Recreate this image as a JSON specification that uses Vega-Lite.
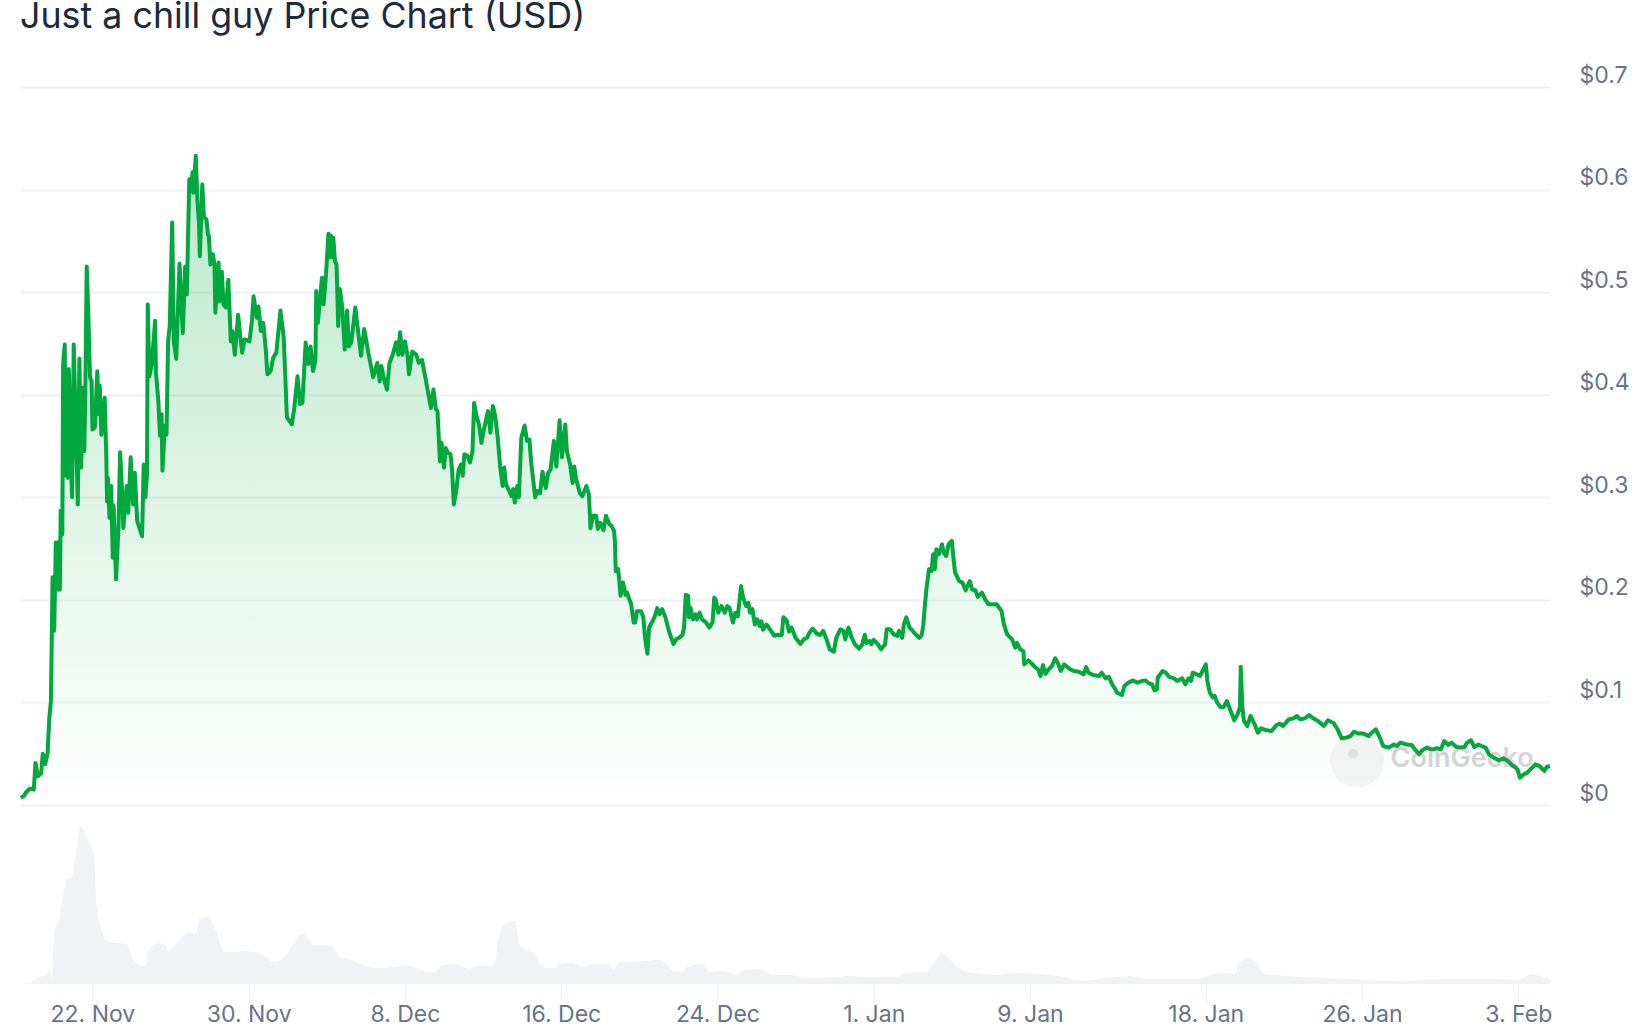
{"$schema":"https://vega.github.io/schema/vega-lite/v6.json","width":1530,"height":897,"autosize":"none","padding":{"left":20,"top":87,"right":94,"bottom":44},"background":"white","title":{"text":"Just a chill guy Price Chart (USD)","anchor":"start","frame":"group","font":"Inter","fontSize":35.8,"fontWeight":400,"color":"#1e293b","offset":28},"config":{"view":{"stroke":null}},"datasets":{"price":[
{"t":"2024-11-18T08:00Z","p":0.007},{"t":"2024-11-18T12:00Z","p":0.009},{"t":"2024-11-18T14:00Z","p":0.012},{"t":"2024-11-18T19:00Z","p":0.016},
{"t":"2024-11-19T00:00Z","p":0.015},{"t":"2024-11-19T02:00Z","p":0.041},{"t":"2024-11-19T05:00Z","p":0.028},{"t":"2024-11-19T09:00Z","p":0.031},{"t":"2024-11-19T11:00Z","p":0.05},{"t":"2024-11-19T14:00Z","p":0.04},{"t":"2024-11-19T17:00Z","p":0.051},{"t":"2024-11-19T19:00Z","p":0.085},{"t":"2024-11-19T21:00Z","p":0.101},{"t":"2024-11-19T22:00Z","p":0.16},{"t":"2024-11-19T23:00Z","p":0.222},
{"t":"2024-11-20T01:00Z","p":0.17},{"t":"2024-11-20T03:00Z","p":0.256},{"t":"2024-11-20T05:00Z","p":0.21},{"t":"2024-11-20T07:00Z","p":0.257},{"t":"2024-11-20T08:00Z","p":0.21},{"t":"2024-11-20T09:00Z","p":0.287},{"t":"2024-11-20T11:00Z","p":0.264},{"t":"2024-11-20T12:00Z","p":0.43},{"t":"2024-11-20T14:00Z","p":0.449},{"t":"2024-11-20T15:00Z","p":0.322},{"t":"2024-11-20T18:00Z","p":0.319},{"t":"2024-11-20T19:00Z","p":0.425},{"t":"2024-11-20T21:00Z","p":0.35},{"t":"2024-11-20T23:00Z","p":0.3},
{"t":"2024-11-21T01:00Z","p":0.449},{"t":"2024-11-21T03:00Z","p":0.388},{"t":"2024-11-21T06:00Z","p":0.293},{"t":"2024-11-21T08:00Z","p":0.435},{"t":"2024-11-21T10:00Z","p":0.329},{"t":"2024-11-21T13:00Z","p":0.407},{"t":"2024-11-21T14:00Z","p":0.345},{"t":"2024-11-21T15:00Z","p":0.388},{"t":"2024-11-21T17:00Z","p":0.525},{"t":"2024-11-21T19:00Z","p":0.478},{"t":"2024-11-21T21:00Z","p":0.417},{"t":"2024-11-21T23:00Z","p":0.413},
{"t":"2024-11-22T00:00Z","p":0.366},{"t":"2024-11-22T03:00Z","p":0.368},{"t":"2024-11-22T06:00Z","p":0.423},{"t":"2024-11-22T08:00Z","p":0.381},{"t":"2024-11-22T09:00Z","p":0.409},{"t":"2024-11-22T11:00Z","p":0.361},{"t":"2024-11-22T15:00Z","p":0.397},{"t":"2024-11-22T17:00Z","p":0.342},{"t":"2024-11-22T18:00Z","p":0.296},{"t":"2024-11-22T19:00Z","p":0.319},{"t":"2024-11-22T21:00Z","p":0.28},{"t":"2024-11-22T23:00Z","p":0.311},
{"t":"2024-11-23T01:00Z","p":0.241},{"t":"2024-11-23T02:00Z","p":0.292},{"t":"2024-11-23T05:00Z","p":0.22},{"t":"2024-11-23T08:00Z","p":0.27},{"t":"2024-11-23T10:00Z","p":0.344},{"t":"2024-11-23T12:00Z","p":0.313},{"t":"2024-11-23T14:00Z","p":0.27},{"t":"2024-11-23T18:00Z","p":0.311},{"t":"2024-11-23T20:00Z","p":0.285},{"t":"2024-11-23T23:00Z","p":0.339},
{"t":"2024-11-24T02:00Z","p":0.293},{"t":"2024-11-24T04:00Z","p":0.324},{"t":"2024-11-24T07:00Z","p":0.277},{"t":"2024-11-24T13:00Z","p":0.262},{"t":"2024-11-24T15:00Z","p":0.332},{"t":"2024-11-24T17:00Z","p":0.3},{"t":"2024-11-24T19:00Z","p":0.322},{"t":"2024-11-24T20:00Z","p":0.488},{"t":"2024-11-24T22:00Z","p":0.418},
{"t":"2024-11-25T01:00Z","p":0.43},{"t":"2024-11-25T05:00Z","p":0.472},{"t":"2024-11-25T06:00Z","p":0.422},{"t":"2024-11-25T09:00Z","p":0.394},{"t":"2024-11-25T11:00Z","p":0.36},{"t":"2024-11-25T13:00Z","p":0.381},{"t":"2024-11-25T14:00Z","p":0.326},{"t":"2024-11-25T17:00Z","p":0.37},{"t":"2024-11-25T19:00Z","p":0.361},{"t":"2024-11-25T21:00Z","p":0.452},{"t":"2024-11-25T23:00Z","p":0.467},
{"t":"2024-11-26T02:00Z","p":0.568},{"t":"2024-11-26T04:00Z","p":0.452},{"t":"2024-11-26T07:00Z","p":0.435},{"t":"2024-11-26T11:00Z","p":0.528},{"t":"2024-11-26T15:00Z","p":0.46},{"t":"2024-11-26T18:00Z","p":0.525},{"t":"2024-11-26T20:00Z","p":0.498},{"t":"2024-11-26T23:00Z","p":0.61},
{"t":"2024-11-27T01:00Z","p":0.599},{"t":"2024-11-27T03:00Z","p":0.617},{"t":"2024-11-27T04:00Z","p":0.597},{"t":"2024-11-27T07:00Z","p":0.633},{"t":"2024-11-27T09:00Z","p":0.589},{"t":"2024-11-27T11:00Z","p":0.566},{"t":"2024-11-27T12:00Z","p":0.535},{"t":"2024-11-27T15:00Z","p":0.605},{"t":"2024-11-27T17:00Z","p":0.573},{"t":"2024-11-27T20:00Z","p":0.571},{"t":"2024-11-27T22:00Z","p":0.556},{"t":"2024-11-27T23:00Z","p":0.555},
{"t":"2024-11-28T01:00Z","p":0.527},{"t":"2024-11-28T04:00Z","p":0.537},{"t":"2024-11-28T06:00Z","p":0.527},{"t":"2024-11-28T07:00Z","p":0.48},{"t":"2024-11-28T11:00Z","p":0.529},{"t":"2024-11-28T12:00Z","p":0.491},{"t":"2024-11-28T15:00Z","p":0.52},{"t":"2024-11-28T17:00Z","p":0.488},{"t":"2024-11-28T20:00Z","p":0.485},{"t":"2024-11-28T23:00Z","p":0.512},
{"t":"2024-11-29T02:00Z","p":0.452},{"t":"2024-11-29T04:00Z","p":0.462},{"t":"2024-11-29T07:00Z","p":0.439},{"t":"2024-11-29T11:00Z","p":0.478},{"t":"2024-11-29T13:00Z","p":0.462},{"t":"2024-11-29T16:00Z","p":0.441},{"t":"2024-11-29T19:00Z","p":0.454},
{"t":"2024-11-30T01:00Z","p":0.452},{"t":"2024-11-30T04:00Z","p":0.472},{"t":"2024-11-30T06:00Z","p":0.496},{"t":"2024-11-30T10:00Z","p":0.475},{"t":"2024-11-30T12:00Z","p":0.486},{"t":"2024-11-30T15:00Z","p":0.462},{"t":"2024-11-30T18:00Z","p":0.47},{"t":"2024-11-30T21:00Z","p":0.444},{"t":"2024-11-30T23:00Z","p":0.42},
{"t":"2024-12-01T03:00Z","p":0.423},{"t":"2024-12-01T06:00Z","p":0.436},{"t":"2024-12-01T10:00Z","p":0.441},{"t":"2024-12-01T15:00Z","p":0.482},{"t":"2024-12-01T19:00Z","p":0.456},{"t":"2024-12-01T23:00Z","p":0.378},
{"t":"2024-12-02T05:00Z","p":0.371},{"t":"2024-12-02T08:00Z","p":0.387},{"t":"2024-12-02T12:00Z","p":0.418},{"t":"2024-12-02T15:00Z","p":0.391},{"t":"2024-12-02T18:00Z","p":0.392},{"t":"2024-12-02T22:00Z","p":0.451},
{"t":"2024-12-03T01:00Z","p":0.43},{"t":"2024-12-03T04:00Z","p":0.447},{"t":"2024-12-03T07:00Z","p":0.423},{"t":"2024-12-03T10:00Z","p":0.433},{"t":"2024-12-03T11:00Z","p":0.501},{"t":"2024-12-03T13:00Z","p":0.47},{"t":"2024-12-03T18:00Z","p":0.514},{"t":"2024-12-03T20:00Z","p":0.488},{"t":"2024-12-03T23:00Z","p":0.517},
{"t":"2024-12-04T02:00Z","p":0.557},{"t":"2024-12-04T04:00Z","p":0.534},{"t":"2024-12-04T05:00Z","p":0.555},{"t":"2024-12-04T07:00Z","p":0.534},{"t":"2024-12-04T08:00Z","p":0.553},{"t":"2024-12-04T10:00Z","p":0.53},{"t":"2024-12-04T12:00Z","p":0.527},{"t":"2024-12-04T14:00Z","p":0.467},{"t":"2024-12-04T16:00Z","p":0.503},{"t":"2024-12-04T19:00Z","p":0.485},{"t":"2024-12-04T22:00Z","p":0.444},
{"t":"2024-12-05T01:00Z","p":0.482},{"t":"2024-12-05T03:00Z","p":0.447},{"t":"2024-12-05T06:00Z","p":0.451},{"t":"2024-12-05T11:00Z","p":0.485},{"t":"2024-12-05T14:00Z","p":0.465},{"t":"2024-12-05T18:00Z","p":0.438},{"t":"2024-12-05T22:00Z","p":0.464},
{"t":"2024-12-06T03:00Z","p":0.441},{"t":"2024-12-06T09:00Z","p":0.417},{"t":"2024-12-06T14:00Z","p":0.431},{"t":"2024-12-06T17:00Z","p":0.413},{"t":"2024-12-06T19:00Z","p":0.428},{"t":"2024-12-06T23:00Z","p":0.413},
{"t":"2024-12-07T02:00Z","p":0.405},{"t":"2024-12-07T05:00Z","p":0.431},{"t":"2024-12-07T09:00Z","p":0.439},{"t":"2024-12-07T13:00Z","p":0.451},{"t":"2024-12-07T16:00Z","p":0.439},{"t":"2024-12-07T18:00Z","p":0.461},{"t":"2024-12-07T21:00Z","p":0.439},
{"t":"2024-12-08T00:00Z","p":0.452},{"t":"2024-12-08T03:00Z","p":0.439},{"t":"2024-12-08T05:00Z","p":0.42},{"t":"2024-12-08T09:00Z","p":0.442},{"t":"2024-12-08T14:00Z","p":0.439},{"t":"2024-12-08T17:00Z","p":0.431},{"t":"2024-12-08T21:00Z","p":0.434},
{"t":"2024-12-09T02:00Z","p":0.413},{"t":"2024-12-09T04:00Z","p":0.404},{"t":"2024-12-09T08:00Z","p":0.387},{"t":"2024-12-09T11:00Z","p":0.405},{"t":"2024-12-09T14:00Z","p":0.386},{"t":"2024-12-09T16:00Z","p":0.384},{"t":"2024-12-09T19:00Z","p":0.335},{"t":"2024-12-09T21:00Z","p":0.353},
{"t":"2024-12-10T00:00Z","p":0.329},{"t":"2024-12-10T02:00Z","p":0.348},{"t":"2024-12-10T05:00Z","p":0.343},{"t":"2024-12-10T08:00Z","p":0.342},{"t":"2024-12-10T10:00Z","p":0.326},{"t":"2024-12-10T12:00Z","p":0.293},{"t":"2024-12-10T15:00Z","p":0.306},{"t":"2024-12-10T18:00Z","p":0.327},{"t":"2024-12-10T21:00Z","p":0.332},{"t":"2024-12-10T23:00Z","p":0.321},
{"t":"2024-12-11T01:00Z","p":0.342},{"t":"2024-12-11T05:00Z","p":0.34},{"t":"2024-12-11T08:00Z","p":0.334},{"t":"2024-12-11T11:00Z","p":0.345},{"t":"2024-12-11T13:00Z","p":0.392},{"t":"2024-12-11T16:00Z","p":0.379},{"t":"2024-12-11T19:00Z","p":0.371},{"t":"2024-12-11T22:00Z","p":0.353},
{"t":"2024-12-12T01:00Z","p":0.366},{"t":"2024-12-12T06:00Z","p":0.384},{"t":"2024-12-12T09:00Z","p":0.363},{"t":"2024-12-12T12:00Z","p":0.389},{"t":"2024-12-12T15:00Z","p":0.379},{"t":"2024-12-12T18:00Z","p":0.358},{"t":"2024-12-12T21:00Z","p":0.33},
{"t":"2024-12-13T00:00Z","p":0.311},{"t":"2024-12-13T02:00Z","p":0.329},{"t":"2024-12-13T04:00Z","p":0.313},{"t":"2024-12-13T07:00Z","p":0.308},{"t":"2024-12-13T11:00Z","p":0.301},{"t":"2024-12-13T13:00Z","p":0.308},{"t":"2024-12-13T15:00Z","p":0.295},{"t":"2024-12-13T18:00Z","p":0.311},{"t":"2024-12-13T20:00Z","p":0.3},{"t":"2024-12-13T23:00Z","p":0.358},
{"t":"2024-12-14T03:00Z","p":0.37},{"t":"2024-12-14T06:00Z","p":0.355},{"t":"2024-12-14T09:00Z","p":0.356},{"t":"2024-12-14T11:00Z","p":0.335},{"t":"2024-12-14T16:00Z","p":0.3},{"t":"2024-12-14T19:00Z","p":0.306},{"t":"2024-12-14T22:00Z","p":0.304},
{"t":"2024-12-15T01:00Z","p":0.325},{"t":"2024-12-15T05:00Z","p":0.309},{"t":"2024-12-15T08:00Z","p":0.324},{"t":"2024-12-15T11:00Z","p":0.327},{"t":"2024-12-15T15:00Z","p":0.355},{"t":"2024-12-15T18:00Z","p":0.33},{"t":"2024-12-15T22:00Z","p":0.375},
{"t":"2024-12-16T01:00Z","p":0.339},{"t":"2024-12-16T05:00Z","p":0.371},{"t":"2024-12-16T07:00Z","p":0.345},{"t":"2024-12-16T11:00Z","p":0.332},{"t":"2024-12-16T14:00Z","p":0.314},{"t":"2024-12-16T16:00Z","p":0.33},{"t":"2024-12-16T18:00Z","p":0.319},{"t":"2024-12-16T23:00Z","p":0.304},
{"t":"2024-12-17T02:00Z","p":0.301},{"t":"2024-12-17T07:00Z","p":0.311},{"t":"2024-12-17T10:00Z","p":0.303},{"t":"2024-12-17T12:00Z","p":0.27},{"t":"2024-12-17T15:00Z","p":0.282},{"t":"2024-12-17T19:00Z","p":0.282},{"t":"2024-12-17T21:00Z","p":0.269},
{"t":"2024-12-18T00:00Z","p":0.275},{"t":"2024-12-18T04:00Z","p":0.268},{"t":"2024-12-18T07:00Z","p":0.282},{"t":"2024-12-18T11:00Z","p":0.274},{"t":"2024-12-18T14:00Z","p":0.272},{"t":"2024-12-18T17:00Z","p":0.267},{"t":"2024-12-18T18:00Z","p":0.257},{"t":"2024-12-18T19:00Z","p":0.228},{"t":"2024-12-18T22:00Z","p":0.23},
{"t":"2024-12-19T01:00Z","p":0.204},{"t":"2024-12-19T04:00Z","p":0.217},{"t":"2024-12-19T07:00Z","p":0.205},{"t":"2024-12-19T09:00Z","p":0.207},{"t":"2024-12-19T11:00Z","p":0.202},{"t":"2024-12-19T14:00Z","p":0.196},{"t":"2024-12-19T17:00Z","p":0.178},{"t":"2024-12-19T19:00Z","p":0.178},{"t":"2024-12-19T21:00Z","p":0.189},
{"t":"2024-12-20T02:00Z","p":0.189},{"t":"2024-12-20T05:00Z","p":0.183},{"t":"2024-12-20T07:00Z","p":0.163},{"t":"2024-12-20T10:00Z","p":0.1475},{"t":"2024-12-20T12:00Z","p":0.173},{"t":"2024-12-20T16:00Z","p":0.179},{"t":"2024-12-20T19:00Z","p":0.184},{"t":"2024-12-20T22:00Z","p":0.192},
{"t":"2024-12-21T01:00Z","p":0.186},{"t":"2024-12-21T04:00Z","p":0.191},{"t":"2024-12-21T08:00Z","p":0.183},{"t":"2024-12-21T13:00Z","p":0.168},{"t":"2024-12-21T18:00Z","p":0.157},{"t":"2024-12-21T21:00Z","p":0.1615},
{"t":"2024-12-22T01:00Z","p":0.163},{"t":"2024-12-22T05:00Z","p":0.166},{"t":"2024-12-22T07:00Z","p":0.173},{"t":"2024-12-22T09:00Z","p":0.205},{"t":"2024-12-22T12:00Z","p":0.204},{"t":"2024-12-22T13:00Z","p":0.183},{"t":"2024-12-22T15:00Z","p":0.192},{"t":"2024-12-22T18:00Z","p":0.181},{"t":"2024-12-22T21:00Z","p":0.186},{"t":"2024-12-22T23:00Z","p":0.181},
{"t":"2024-12-23T02:00Z","p":0.1875},{"t":"2024-12-23T05:00Z","p":0.181},{"t":"2024-12-23T10:00Z","p":0.178},{"t":"2024-12-23T14:00Z","p":0.173},{"t":"2024-12-23T18:00Z","p":0.178},{"t":"2024-12-23T20:00Z","p":0.202},{"t":"2024-12-23T22:00Z","p":0.2},
{"t":"2024-12-24T01:00Z","p":0.1875},{"t":"2024-12-24T05:00Z","p":0.194},{"t":"2024-12-24T09:00Z","p":0.1875},{"t":"2024-12-24T12:00Z","p":0.194},{"t":"2024-12-24T15:00Z","p":0.192},{"t":"2024-12-24T19:00Z","p":0.178},{"t":"2024-12-24T22:00Z","p":0.1875},
{"t":"2024-12-25T01:00Z","p":0.184},{"t":"2024-12-25T05:00Z","p":0.2135},{"t":"2024-12-25T07:00Z","p":0.204},{"t":"2024-12-25T11:00Z","p":0.194},{"t":"2024-12-25T14:00Z","p":0.197},{"t":"2024-12-25T16:00Z","p":0.1875},{"t":"2024-12-25T19:00Z","p":0.191},{"t":"2024-12-25T22:00Z","p":0.176},
{"t":"2024-12-26T01:00Z","p":0.181},{"t":"2024-12-26T04:00Z","p":0.1745},{"t":"2024-12-26T06:00Z","p":0.179},{"t":"2024-12-26T08:00Z","p":0.171},{"t":"2024-12-26T12:00Z","p":0.176},{"t":"2024-12-26T15:00Z","p":0.173},{"t":"2024-12-26T22:00Z","p":0.165},
{"t":"2024-12-27T02:00Z","p":0.166},{"t":"2024-12-27T07:00Z","p":0.1657},{"t":"2024-12-27T09:00Z","p":0.183},{"t":"2024-12-27T13:00Z","p":0.18},{"t":"2024-12-27T16:00Z","p":0.169},{"t":"2024-12-27T19:00Z","p":0.173},
{"t":"2024-12-28T00:00Z","p":0.163},{"t":"2024-12-28T06:00Z","p":0.157},{"t":"2024-12-28T10:00Z","p":0.1615},{"t":"2024-12-28T14:00Z","p":0.163},{"t":"2024-12-28T17:00Z","p":0.168},{"t":"2024-12-28T21:00Z","p":0.172},
{"t":"2024-12-29T02:00Z","p":0.167},{"t":"2024-12-29T06:00Z","p":0.1657},{"t":"2024-12-29T10:00Z","p":0.1697},{"t":"2024-12-29T14:00Z","p":0.1615},{"t":"2024-12-29T18:00Z","p":0.1518},{"t":"2024-12-29T23:00Z","p":0.1495},
{"t":"2024-12-30T02:00Z","p":0.163},{"t":"2024-12-30T07:00Z","p":0.1713},{"t":"2024-12-30T11:00Z","p":0.1697},{"t":"2024-12-30T13:00Z","p":0.1615},{"t":"2024-12-30T17:00Z","p":0.173},{"t":"2024-12-30T21:00Z","p":0.163},
{"t":"2024-12-31T01:00Z","p":0.1567},{"t":"2024-12-31T06:00Z","p":0.1524},{"t":"2024-12-31T10:00Z","p":0.1567},{"t":"2024-12-31T13:00Z","p":0.166},{"t":"2024-12-31T15:00Z","p":0.158},{"t":"2024-12-31T19:00Z","p":0.16},{"t":"2024-12-31T21:00Z","p":0.1567},
{"t":"2025-01-01T00:00Z","p":0.161},{"t":"2025-01-01T05:00Z","p":0.157},{"t":"2025-01-01T09:00Z","p":0.1518},{"t":"2025-01-01T14:00Z","p":0.1567},{"t":"2025-01-01T16:00Z","p":0.1713},{"t":"2025-01-01T20:00Z","p":0.1713},
{"t":"2025-01-02T01:00Z","p":0.166},{"t":"2025-01-02T05:00Z","p":0.1648},{"t":"2025-01-02T07:00Z","p":0.1697},{"t":"2025-01-02T11:00Z","p":0.163},{"t":"2025-01-02T13:00Z","p":0.176},{"t":"2025-01-02T16:00Z","p":0.183},{"t":"2025-01-02T20:00Z","p":0.173},
{"t":"2025-01-03T00:00Z","p":0.1697},{"t":"2025-01-03T04:00Z","p":0.166},{"t":"2025-01-03T08:00Z","p":0.163},{"t":"2025-01-03T11:00Z","p":0.1657},{"t":"2025-01-03T13:00Z","p":0.176},{"t":"2025-01-03T15:00Z","p":0.1957},{"t":"2025-01-03T17:00Z","p":0.212},{"t":"2025-01-03T20:00Z","p":0.2298},{"t":"2025-01-03T23:00Z","p":0.2282},
{"t":"2025-01-04T01:00Z","p":0.2444},{"t":"2025-01-04T03:00Z","p":0.2298},{"t":"2025-01-04T05:00Z","p":0.2493},{"t":"2025-01-04T08:00Z","p":0.2444},{"t":"2025-01-04T12:00Z","p":0.2541},{"t":"2025-01-04T14:00Z","p":0.246},{"t":"2025-01-04T17:00Z","p":0.2428},{"t":"2025-01-04T20:00Z","p":0.2541},
{"t":"2025-01-05T00:00Z","p":0.2574},{"t":"2025-01-05T02:00Z","p":0.2411},{"t":"2025-01-05T04:00Z","p":0.2265},{"t":"2025-01-05T09:00Z","p":0.2184},{"t":"2025-01-05T13:00Z","p":0.2168},{"t":"2025-01-05T17:00Z","p":0.2093},{"t":"2025-01-05T22:00Z","p":0.2184},
{"t":"2025-01-06T01:00Z","p":0.21},{"t":"2025-01-06T05:00Z","p":0.2093},{"t":"2025-01-06T08:00Z","p":0.2028},{"t":"2025-01-06T13:00Z","p":0.207},{"t":"2025-01-06T17:00Z","p":0.2005},{"t":"2025-01-06T21:00Z","p":0.1957},
{"t":"2025-01-07T01:00Z","p":0.1957},{"t":"2025-01-07T07:00Z","p":0.1957},{"t":"2025-01-07T13:00Z","p":0.1892},{"t":"2025-01-07T16:00Z","p":0.176},{"t":"2025-01-07T20:00Z","p":0.1664},
{"t":"2025-01-08T02:00Z","p":0.1615},{"t":"2025-01-08T06:00Z","p":0.1534},{"t":"2025-01-08T08:00Z","p":0.158},{"t":"2025-01-08T12:00Z","p":0.1518},{"t":"2025-01-08T16:00Z","p":0.15},{"t":"2025-01-08T17:00Z","p":0.1372},{"t":"2025-01-08T22:00Z","p":0.141},
{"t":"2025-01-09T03:00Z","p":0.1372},{"t":"2025-01-09T07:00Z","p":0.134},{"t":"2025-01-09T10:00Z","p":0.1323},{"t":"2025-01-09T13:00Z","p":0.1258},{"t":"2025-01-09T16:00Z","p":0.1365},{"t":"2025-01-09T19:00Z","p":0.128},{"t":"2025-01-09T23:00Z","p":0.1323},
{"t":"2025-01-10T03:00Z","p":0.1355},{"t":"2025-01-10T07:00Z","p":0.143},{"t":"2025-01-10T10:00Z","p":0.139},{"t":"2025-01-10T14:00Z","p":0.1307},{"t":"2025-01-10T18:00Z","p":0.1372},
{"t":"2025-01-11T00:00Z","p":0.133},{"t":"2025-01-11T06:00Z","p":0.1307},{"t":"2025-01-11T12:00Z","p":0.13},{"t":"2025-01-11T18:00Z","p":0.1274},{"t":"2025-01-11T21:00Z","p":0.1345},
{"t":"2025-01-12T00:00Z","p":0.129},{"t":"2025-01-12T06:00Z","p":0.1267},{"t":"2025-01-12T13:00Z","p":0.1258},{"t":"2025-01-12T16:00Z","p":0.129},{"t":"2025-01-12T21:00Z","p":0.1235},
{"t":"2025-01-13T01:00Z","p":0.125},{"t":"2025-01-13T05:00Z","p":0.1177},{"t":"2025-01-13T09:00Z","p":0.1128},{"t":"2025-01-13T11:00Z","p":0.1095},{"t":"2025-01-13T17:00Z","p":0.1073},{"t":"2025-01-13T20:00Z","p":0.116},
{"t":"2025-01-14T01:00Z","p":0.1193},{"t":"2025-01-14T06:00Z","p":0.1215},{"t":"2025-01-14T12:00Z","p":0.1193},{"t":"2025-01-14T18:00Z","p":0.121},{"t":"2025-01-14T22:00Z","p":0.1215},
{"t":"2025-01-15T02:00Z","p":0.1186},{"t":"2025-01-15T06:00Z","p":0.1177},{"t":"2025-01-15T09:00Z","p":0.1118},{"t":"2025-01-15T12:00Z","p":0.1128},{"t":"2025-01-15T13:00Z","p":0.1241},{"t":"2025-01-15T19:00Z","p":0.1307},{"t":"2025-01-15T23:00Z","p":0.129},
{"t":"2025-01-16T03:00Z","p":0.125},{"t":"2025-01-16T09:00Z","p":0.1235},{"t":"2025-01-16T13:00Z","p":0.121},{"t":"2025-01-16T19:00Z","p":0.1235},{"t":"2025-01-16T23:00Z","p":0.1177},
{"t":"2025-01-17T03:00Z","p":0.1235},{"t":"2025-01-17T06:00Z","p":0.121},{"t":"2025-01-17T08:00Z","p":0.129},{"t":"2025-01-17T13:00Z","p":0.1274},{"t":"2025-01-17T17:00Z","p":0.1258},{"t":"2025-01-17T21:00Z","p":0.1323},
{"t":"2025-01-18T00:00Z","p":0.1372},{"t":"2025-01-18T02:00Z","p":0.121},{"t":"2025-01-18T05:00Z","p":0.1095},{"t":"2025-01-18T09:00Z","p":0.1047},{"t":"2025-01-18T11:00Z","p":0.1063},{"t":"2025-01-18T14:00Z","p":0.1},{"t":"2025-01-18T18:00Z","p":0.0955},{"t":"2025-01-18T22:00Z","p":0.0955},
{"t":"2025-01-19T02:00Z","p":0.1014},{"t":"2025-01-19T05:00Z","p":0.095},{"t":"2025-01-19T11:00Z","p":0.0825},{"t":"2025-01-19T15:00Z","p":0.0884},{"t":"2025-01-19T18:00Z","p":0.095},{"t":"2025-01-19T19:00Z","p":0.1349},{"t":"2025-01-19T21:00Z","p":0.095},{"t":"2025-01-19T23:00Z","p":0.082},
{"t":"2025-01-20T03:00Z","p":0.077},{"t":"2025-01-20T07:00Z","p":0.0868},{"t":"2025-01-20T13:00Z","p":0.0768},{"t":"2025-01-20T16:00Z","p":0.0705},{"t":"2025-01-20T20:00Z","p":0.0748},
{"t":"2025-01-21T03:00Z","p":0.0728},{"t":"2025-01-21T09:00Z","p":0.0722},{"t":"2025-01-21T15:00Z","p":0.078},{"t":"2025-01-21T19:00Z","p":0.0793},{"t":"2025-01-21T23:00Z","p":0.077},
{"t":"2025-01-22T06:00Z","p":0.0835},{"t":"2025-01-22T12:00Z","p":0.0845},{"t":"2025-01-22T16:00Z","p":0.0868},{"t":"2025-01-22T20:00Z","p":0.0835},
{"t":"2025-01-23T02:00Z","p":0.0845},{"t":"2025-01-23T07:00Z","p":0.0878},{"t":"2025-01-23T12:00Z","p":0.0845},{"t":"2025-01-23T18:00Z","p":0.082},
{"t":"2025-01-24T01:00Z","p":0.077},{"t":"2025-01-24T06:00Z","p":0.0826},{"t":"2025-01-24T13:00Z","p":0.08},{"t":"2025-01-24T18:00Z","p":0.0738},{"t":"2025-01-24T23:00Z","p":0.065},
{"t":"2025-01-25T05:00Z","p":0.0657},{"t":"2025-01-25T10:00Z","p":0.0673},{"t":"2025-01-25T14:00Z","p":0.0715},{"t":"2025-01-25T20:00Z","p":0.0696},
{"t":"2025-01-26T02:00Z","p":0.0696},{"t":"2025-01-26T08:00Z","p":0.0673},{"t":"2025-01-26T12:00Z","p":0.0705},{"t":"2025-01-26T17:00Z","p":0.0738},{"t":"2025-01-26T22:00Z","p":0.0657},
{"t":"2025-01-27T02:00Z","p":0.0575},{"t":"2025-01-27T09:00Z","p":0.056},{"t":"2025-01-27T15:00Z","p":0.059},{"t":"2025-01-27T19:00Z","p":0.0575},{"t":"2025-01-27T23:00Z","p":0.0608},
{"t":"2025-01-28T07:00Z","p":0.059},{"t":"2025-01-28T13:00Z","p":0.0585},{"t":"2025-01-28T17:00Z","p":0.0543},{"t":"2025-01-28T22:00Z","p":0.0494},
{"t":"2025-01-29T02:00Z","p":0.0533},{"t":"2025-01-29T08:00Z","p":0.056},{"t":"2025-01-29T14:00Z","p":0.054},{"t":"2025-01-29T20:00Z","p":0.0553},
{"t":"2025-01-30T01:00Z","p":0.0543},{"t":"2025-01-30T05:00Z","p":0.0624},{"t":"2025-01-30T10:00Z","p":0.0585},{"t":"2025-01-30T14:00Z","p":0.0608},{"t":"2025-01-30T20:00Z","p":0.0565},
{"t":"2025-01-31T01:00Z","p":0.056},{"t":"2025-01-31T06:00Z","p":0.0565},{"t":"2025-01-31T09:00Z","p":0.0608},{"t":"2025-01-31T14:00Z","p":0.0631},{"t":"2025-01-31T18:00Z","p":0.0565},{"t":"2025-01-31T23:00Z","p":0.059},
{"t":"2025-02-01T03:00Z","p":0.0575},{"t":"2025-02-01T08:00Z","p":0.056},{"t":"2025-02-01T12:00Z","p":0.0494},{"t":"2025-02-01T18:00Z","p":0.0462},
{"t":"2025-02-02T00:00Z","p":0.0436},{"t":"2025-02-02T06:00Z","p":0.0455},{"t":"2025-02-02T11:00Z","p":0.043},{"t":"2025-02-02T16:00Z","p":0.039},{"t":"2025-02-02T20:00Z","p":0.0371},{"t":"2025-02-02T23:00Z","p":0.0348},
{"t":"2025-02-03T02:00Z","p":0.0267},{"t":"2025-02-03T07:00Z","p":0.03},{"t":"2025-02-03T11:00Z","p":0.0315},{"t":"2025-02-03T15:00Z","p":0.0348},{"t":"2025-02-03T21:00Z","p":0.0397},
{"t":"2025-02-04T02:00Z","p":0.038},{"t":"2025-02-04T08:00Z","p":0.0332},{"t":"2025-02-04T11:00Z","p":0.0371},{"t":"2025-02-04T15:00Z","p":0.038}
],"volume":[
{"t":"2024-11-18T07:00Z","v":0},{"t":"2024-11-18T21:00Z","v":2},{"t":"2024-11-19T07:00Z","v":7},{"t":"2024-11-19T17:00Z","v":10},{"t":"2024-11-19T20:00Z","v":17},{"t":"2024-11-19T22:00Z","v":5},{"t":"2024-11-20T01:00Z","v":52},{"t":"2024-11-20T07:00Z","v":65},{"t":"2024-11-20T12:00Z","v":88},{"t":"2024-11-20T17:00Z","v":105},{"t":"2024-11-20T23:00Z","v":105},{"t":"2024-11-21T03:00Z","v":128},{"t":"2024-11-21T10:00Z","v":158},{"t":"2024-11-21T17:00Z","v":145},{"t":"2024-11-22T02:00Z","v":130},{"t":"2024-11-22T05:00Z","v":78},{"t":"2024-11-22T10:00Z","v":58},{"t":"2024-11-22T17:00Z","v":43},{"t":"2024-11-23T06:00Z","v":41},{"t":"2024-11-23T18:00Z","v":40},{"t":"2024-11-24T03:00Z","v":23},{"t":"2024-11-24T16:00Z","v":18},{"t":"2024-11-24T22:00Z","v":35},{"t":"2024-11-25T09:00Z","v":41},{"t":"2024-11-25T18:00Z","v":38},{"t":"2024-11-25T21:00Z","v":33},{"t":"2024-11-26T09:00Z","v":42},{"t":"2024-11-26T23:00Z","v":52},{"t":"2024-11-27T07:00Z","v":50},{"t":"2024-11-27T11:00Z","v":65},{"t":"2024-11-27T21:00Z","v":67},{"t":"2024-11-28T07:00Z","v":55},{"t":"2024-11-28T18:00Z","v":32},{"t":"2024-11-29T05:00Z","v":32},{"t":"2024-11-29T19:00Z","v":33},{"t":"2024-11-30T15:00Z","v":30},{"t":"2024-12-01T08:00Z","v":22},{"t":"2024-12-01T20:00Z","v":27},{"t":"2024-12-02T08:00Z","v":40},{"t":"2024-12-02T15:00Z","v":49},{"t":"2024-12-02T22:00Z","v":49},{"t":"2024-12-03T06:00Z","v":39},{"t":"2024-12-03T20:00Z","v":39},{"t":"2024-12-04T08:00Z","v":37},{"t":"2024-12-04T16:00Z","v":27},{"t":"2024-12-05T06:00Z","v":24},{"t":"2024-12-05T23:00Z","v":18},{"t":"2024-12-06T19:00Z","v":16},{"t":"2024-12-07T07:00Z","v":17},{"t":"2024-12-08T02:00Z","v":18},{"t":"2024-12-08T17:00Z","v":15},{"t":"2024-12-09T05:00Z","v":12},{"t":"2024-12-09T12:00Z","v":12},{"t":"2024-12-09T22:00Z","v":19},{"t":"2024-12-10T12:00Z","v":20},{"t":"2024-12-11T08:00Z","v":15},{"t":"2024-12-11T13:00Z","v":18},{"t":"2024-12-12T10:00Z","v":18},{"t":"2024-12-12T15:00Z","v":22},{"t":"2024-12-12T18:00Z","v":42},{"t":"2024-12-13T04:00Z","v":61},{"t":"2024-12-13T16:00Z","v":63},{"t":"2024-12-13T20:00Z","v":40},{"t":"2024-12-14T18:00Z","v":27},{"t":"2024-12-14T23:00Z","v":19},{"t":"2024-12-15T10:00Z","v":16},{"t":"2024-12-15T17:00Z","v":16},{"t":"2024-12-15T21:00Z","v":20},{"t":"2024-12-16T13:00Z","v":21},{"t":"2024-12-17T03:00Z","v":17},{"t":"2024-12-17T18:00Z","v":20},{"t":"2024-12-18T10:00Z","v":20},{"t":"2024-12-18T16:00Z","v":15},{"t":"2024-12-19T01:00Z","v":22},{"t":"2024-12-19T17:00Z","v":22},{"t":"2024-12-20T09:00Z","v":23},{"t":"2024-12-21T02:00Z","v":24},{"t":"2024-12-21T10:00Z","v":19},{"t":"2024-12-21T18:00Z","v":13},{"t":"2024-12-22T04:00Z","v":12},{"t":"2024-12-22T11:00Z","v":17},{"t":"2024-12-23T05:00Z","v":20},{"t":"2024-12-23T15:00Z","v":12},{"t":"2024-12-24T03:00Z","v":13},{"t":"2024-12-24T12:00Z","v":12},{"t":"2024-12-24T22:00Z","v":9},{"t":"2024-12-25T08:00Z","v":14},{"t":"2024-12-26T03:00Z","v":15},{"t":"2024-12-26T21:00Z","v":9},{"t":"2024-12-27T20:00Z","v":9},{"t":"2024-12-28T12:00Z","v":6},{"t":"2024-12-29T23:00Z","v":7},{"t":"2024-12-30T19:00Z","v":8},{"t":"2024-12-31T20:00Z","v":7},{"t":"2025-01-02T07:00Z","v":7},{"t":"2025-01-02T15:00Z","v":11},{"t":"2025-01-03T18:00Z","v":12},{"t":"2025-01-04T02:00Z","v":22},{"t":"2025-01-04T12:00Z","v":30},{"t":"2025-01-04T20:00Z","v":26},{"t":"2025-01-05T08:00Z","v":16},{"t":"2025-01-06T03:00Z","v":11},{"t":"2025-01-07T08:00Z","v":9},{"t":"2025-01-08T04:00Z","v":11},{"t":"2025-01-09T11:00Z","v":10},{"t":"2025-01-10T18:00Z","v":7},{"t":"2025-01-11T14:00Z","v":3},{"t":"2025-01-12T19:00Z","v":6},{"t":"2025-01-14T02:00Z","v":8},{"t":"2025-01-15T00:00Z","v":5},{"t":"2025-01-17T14:00Z","v":5},{"t":"2025-01-17T22:00Z","v":7},{"t":"2025-01-18T18:00Z","v":11},{"t":"2025-01-19T12:00Z","v":10},{"t":"2025-01-19T17:00Z","v":21},{"t":"2025-01-20T05:00Z","v":26},{"t":"2025-01-20T17:00Z","v":19},{"t":"2025-01-21T00:00Z","v":10},{"t":"2025-01-22T04:00Z","v":8},{"t":"2025-01-24T01:00Z","v":6},{"t":"2025-01-25T06:00Z","v":5},{"t":"2025-01-27T20:00Z","v":3},{"t":"2025-01-30T09:00Z","v":5},{"t":"2025-02-01T23:00Z","v":5},{"t":"2025-02-03T00:00Z","v":4},{"t":"2025-02-03T17:00Z","v":10},{"t":"2025-02-04T11:00Z","v":6},{"t":"2025-02-04T15:00Z","v":5}
],"logo":[{"t":"2025-01-25T18:00Z","p":0.0435,"s":2900,"o":0.05},{"t":"2025-01-25T13:00Z","p":0.05,"s":90,"o":0.1}],"brand":[{"t":"2025-01-31T03:00Z","p":0.045,"label":"CoinGecko"}]},
"encoding":{"x":{"field":"t","type":"temporal","title":null,"scale":{"type":"utc","domain":[{"year":2024,"month":"nov","date":18,"hours":7,"utc":true},{"year":2025,"month":"feb","date":4,"hours":15,"utc":true}]},"axis":{"values":[{"year":2024,"month":"nov","date":22,"utc":true},{"year":2024,"month":"nov","date":30,"utc":true},{"year":2024,"month":"dec","date":8,"utc":true},{"year":2024,"month":"dec","date":16,"utc":true},{"year":2024,"month":"dec","date":24,"utc":true},{"year":2025,"month":"jan","date":1,"utc":true},{"year":2025,"month":"jan","date":9,"utc":true},{"year":2025,"month":"jan","date":18,"utc":true},{"year":2025,"month":"jan","date":26,"utc":true},{"year":2025,"month":"feb","date":3,"utc":true}],"labelExpr":"utcFormat(datum.value,'%-d. %b')","grid":false,"domain":false,"tickSize":18,"tickWidth":1.5,"tickColor":"#eff2f5","labelFont":"Inter","labelFontSize":23,"labelColor":"#677389","labelPadding":1,"labelOverlap":false,"labelFlush":false,"labelBound":false}}},
"resolve":{"scale":{"y":"independent"}},
"layer":[
{"data":{"name":"volume"},"mark":{"type":"area","color":"#f0f2f5","interpolate":"monotone"},"encoding":{"y":{"field":"v","type":"quantitative","scale":{"domain":[0,897],"nice":false,"zero":false},"axis":null}}},
{"layer":[
{"data":{"name":"price"},"mark":{"type":"area","color":{"gradient":"linear","x1":0,"y1":0,"x2":0,"y2":1,"stops":[{"offset":0,"color":"rgba(0,168,62,0.27)"},{"offset":1,"color":"rgba(0,168,62,0)"}]}},"encoding":{"y":{"field":"p","type":"quantitative","scale":{"domain":[-0.1745,0.7],"nice":false,"zero":false},"title":null,"axis":{"orient":"right","values":[0,0.1,0.2,0.3,0.4,0.5,0.6,0.7],"labelExpr":"'$'+datum.value","grid":true,"gridColor":"#eff2f5","gridWidth":2,"domain":false,"ticks":false,"labelFont":"Inter","labelFontSize":23,"labelColor":"#677389","labelPadding":29,"labelOffset":-12,"labelOverlap":false,"labelFlush":false,"labelBound":false}},"y2":{"datum":0}}},
{"data":{"name":"price"},"mark":{"type":"line","color":"#00a83e","strokeWidth":4,"strokeJoin":"round"},"encoding":{"y":{"field":"p","type":"quantitative"}}},
{"data":{"name":"logo"},"mark":{"type":"point","filled":true,"shape":"circle","color":"#444444"},"encoding":{"y":{"field":"p","type":"quantitative"},"size":{"field":"s","type":"quantitative","scale":null},"opacity":{"field":"o","type":"quantitative","scale":null}}},
{"data":{"name":"brand"},"mark":{"type":"text","font":"Inter","fontSize":27,"fontWeight":600,"color":"#777777","opacity":0.3,"align":"center","baseline":"middle"},"encoding":{"y":{"field":"p","type":"quantitative"},"text":{"field":"label","type":"nominal"}}}
]}
]}
